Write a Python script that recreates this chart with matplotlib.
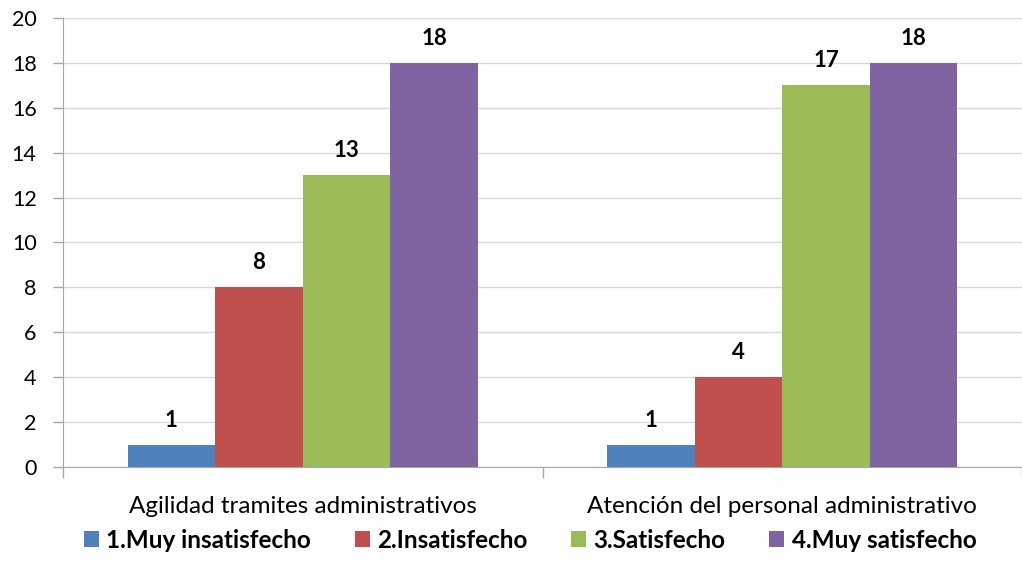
import matplotlib.pyplot as plt
import numpy as np

plt.rcParams['font.family'] = ['Lato', 'DejaVu Sans']

# data
categories = ['Agilidad tramites administrativos', 'Atención del personal administrativo']
series = ['1.Muy insatisfecho', '2.Insatisfecho', '3.Satisfecho', '4.Muy satisfecho']
values = [
    [1, 1],
    [8, 4],
    [13, 17],
    [18, 18],
]
colors = ['#4f81bd', '#c0504d', '#9bbb59', '#8064a2']

fig = plt.figure(figsize=(10.22, 5.75), dpi=100)
ax = fig.add_axes([63 / 1022, 1 - 467 / 575, 959 / 1022, 449 / 575])

x = np.arange(len(categories))
bw = 0.1826
for i, (name, vals) in enumerate(zip(series, values)):
    pos = x + (i - 1.5) * bw
    bars = ax.bar(pos, vals, width=bw, color=colors[i], label=name, zorder=3)
    for b, v in zip(bars, vals):
        ax.text(b.get_x() + b.get_width() / 2, v + 0.8, str(v), ha='center', va='baseline',
                fontsize=16, fontweight='bold', color='black')

ax.set_ylim(0, 20)
ax.set_yticks(range(0, 21, 2))
ax.set_xlim(-0.5, -0.5 + 959 / 482)
ax.grid(axis='y', color='#d9d9d9', linewidth=1, zorder=0)
for s in ['top', 'right']:
    ax.spines[s].set_visible(False)
for s in ['left', 'bottom']:
    ax.spines[s].set_color('#a6a6a6')
ax.tick_params(axis='y', length=7, width=1, color='#a6a6a6', labelsize=15.5, pad=12)
ax.set_xticks(x)
ax.set_xticklabels(categories, fontsize=17.5)
ax.tick_params(axis='x', length=0, pad=21)
ax.set_xticks([-0.5, 0.5, 1.5], minor=True)
ax.tick_params(axis='x', which='minor', length=8, width=1, color='#a6a6a6')

fig.legend(loc='center', bbox_to_anchor=(530 / 1022, 1 - 540 / 575), ncol=4, frameon=False,
           prop={'size': 17.5, 'weight': 'bold'}, handlelength=0.62, handleheight=0.62,
           handletextpad=0.3, columnspacing=1.8)

fig.savefig('out.png', dpi=100)
